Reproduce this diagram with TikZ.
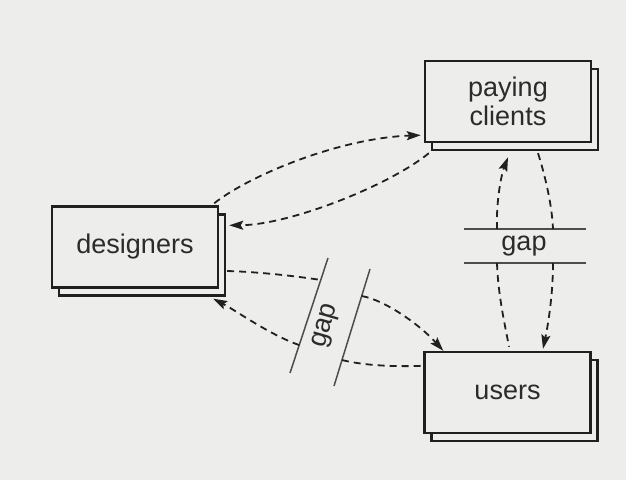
\documentclass[tikz,border=0pt]{standalone}
\usepackage{fontspec}
\setmainfont{Liberation Sans}
\usetikzlibrary{arrows.meta,shadows,calc}
\definecolor{paper}{HTML}{EDEDEB}
\definecolor{ink}{HTML}{202020}
\begin{document}
\begin{tikzpicture}[x=1pt,y=-1pt,
  box/.style={draw=ink, line width=2.4pt, fill=paper, minimum width=166pt,
    minimum height=81pt, align=center, inner sep=0pt,
    font=\fontsize{27}{29}\selectfont, text=ink!95,
    copy shadow={shadow xshift=7pt, shadow yshift=-8pt, draw=ink, fill=paper, line width=2.2pt}},
  flow/.style={draw=ink, line width=1.8pt, dash pattern=on 7pt off 5pt},
  tip/.style={-{Stealth[length=14pt,width=9pt,inset=2.5pt]}},
  gapline/.style={draw=ink!80, line width=1.5pt},
  gaplabel/.style={font=\fontsize{27}{29}\selectfont, text=ink!95, inner sep=0pt}]
\fill[paper] (0,0) rectangle (626,480);
\useasboundingbox (0,0) rectangle (626,480);

% boxes
\node[box] (clients) at (508,101.5) {paying\\clients};
\node[box] (designers) at (135,247) {designers};
\node[box] (users) at (507.5,392.5) {users};

% horizontal gap (clients - users)
\coordinate (hg1w) at (464,229);
\coordinate (hg1e) at (586,229);
\coordinate (hg2w) at (464,263);
\coordinate (hg2e) at (586,263);
\draw[gapline] (hg1w) -- (hg1e);
\draw[gapline] (hg2w) -- (hg2e);
\node[gaplabel] (gaph) at (524,246) {gap};
\coordinate (c1t) at (497,229);
\coordinate (c2t) at (553,229);
\coordinate (c1b) at (497,263);
\coordinate (c2b) at (553,263);

% slanted gap (designers - users)
\coordinate (gl1a) at (290,373);
\coordinate (gl1b) at (328,258);
\coordinate (gl2a) at (334,386);
\coordinate (gl2b) at (370,269);
\draw[gapline] (gl1a) -- (gl1b);
\draw[gapline] (gl2a) -- (gl2b);
\node[gaplabel, rotate=74] (gapd) at (326,326) {gap};
\coordinate (e1) at ($(gl1a)!0.809!(gl1b)$);
\coordinate (e2) at ($(gl2a)!0.769!(gl2b)$);
\coordinate (f1) at ($(gl1a)!0.243!(gl1b)$);
\coordinate (f2) at ($(gl2a)!0.222!(gl2b)$);

% designers <-> clients
\draw[flow, tip] ([shift={(-5,-2)}]designers.north east)
  .. controls (250,175) and (340,138) .. ([shift={(-3,-8)}]clients.south west);
\draw[flow, tip] ([shift={(5,10)}]clients.south west)
  .. controls (390,185) and (290,225) .. ([shift={(10,20)}]designers.north east);

% clients <-> users
\draw[flow, tip] (c1t) .. controls (496,195) and (503,170) .. ([shift={(0,14)}]clients.south);
\draw[flow] (c1b) .. controls (498,295) and (505,325) .. ([shift={(1.5,-4)}]users.north);
\draw[flow] ([shift={(30,10)}]clients.south) .. controls (545,175) and (552,205) .. (c2t);
\draw[flow, tip] (c2b) .. controls (553,295) and (548,325) .. ([shift={(35.5,-2)}]users.north);

% designers <-> users
\draw[flow] ([shift={(8,24)}]designers.east) .. controls (260,272) and (295,276) .. (e1);
\draw[flow, tip] (e2) .. controls (385,300) and (420,325) .. ([shift={(20,0)}]users.north west);
\draw[flow, tip] (f1) .. controls (270,335) and (235,310) .. ([shift={(-6,10)}]designers.south east);
\draw[flow] (f2) .. controls (362,365) and (390,367) .. ([shift={(-1,15)}]users.north west);
\end{tikzpicture}
\end{document}
